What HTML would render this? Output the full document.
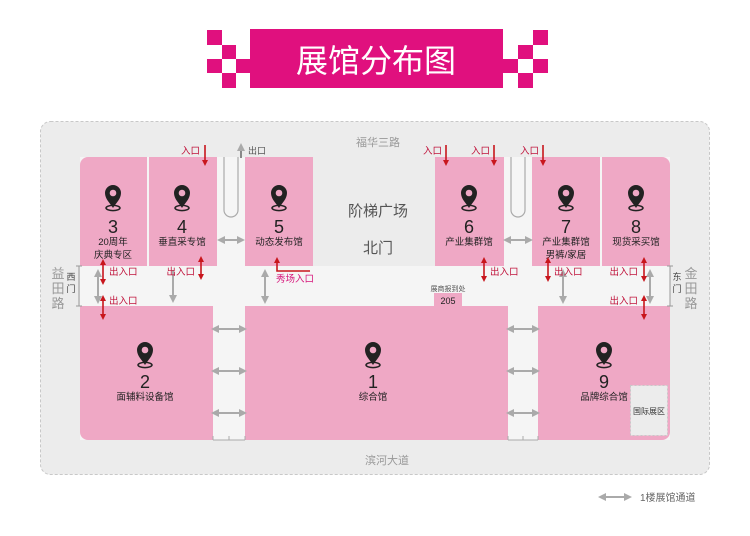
<!DOCTYPE html>
<html><head><meta charset="utf-8"><style>
html,body{margin:0;padding:0;background:#fff;width:750px;height:536px;overflow:hidden}
svg{display:block}
text{font-family:"Liberation Sans","Noto Sans CJK SC",sans-serif}
</style></head><body>
<svg width="750" height="536" viewBox="0 0 750 536" xmlns="http://www.w3.org/2000/svg">
<defs>
<marker id="rh" markerWidth="6" markerHeight="6" refX="3" refY="3" orient="auto-start-reverse" markerUnits="userSpaceOnUse"><path d="M0,0 L6,3 L0,6 z" fill="#c8161d"/></marker>
<marker id="gh" markerWidth="8" markerHeight="8" refX="4" refY="4" orient="auto-start-reverse" markerUnits="userSpaceOnUse"><path d="M0,0 L8,4 L0,8 z" fill="#aaa"/></marker>
<g id="pin"><ellipse cx="0" cy="10" rx="7" ry="2.6" fill="none" stroke="#222" stroke-width="1.5"/><path d="M0,10 C-3,5 -8,1 -8,-5 A8,8 0 1 1 8,-5 C8,1 3,5 0,10 z" fill="#222"/><circle cx="0" cy="-5" r="3.3" fill="#efa8c5"/></g>
</defs>
<!-- banner -->
<g fill="#e0107e">
<rect x="250" y="29" width="253" height="59"/>
<rect x="207" y="30" width="15" height="15"/><rect x="222" y="45" width="14" height="14"/><rect x="207" y="59" width="15" height="14"/><rect x="236" y="59" width="14" height="14"/><rect x="222" y="73" width="14" height="15"/>
<rect x="533" y="30" width="15" height="15"/><rect x="518" y="45" width="15" height="14"/><rect x="533" y="59" width="15" height="14"/><rect x="503" y="59" width="15" height="14"/><rect x="518" y="73" width="15" height="15"/>
</g>
<text x="376" y="72" font-size="32" fill="#fff" text-anchor="middle" font-family="Noto Sans CJK SC,sans-serif">展馆分布图</text>
<!-- outer -->
<rect x="40.5" y="121.5" width="669" height="353" rx="10" fill="#ececec" stroke="#c8c8c8" stroke-dasharray="3,2"/>
<!-- inner white -->
<rect x="80" y="157" width="590" height="283" fill="#f5f5f5"/>
<rect x="313" y="157" width="122" height="109" fill="#ececec"/>
<!-- halls -->
<g fill="#efa8c5">
<path d="M80,266 V165 a8,8 0 0 1 8,-8 H147 V266 z"/>
<rect x="149" y="157" width="68" height="109"/>
<rect x="245" y="157" width="68" height="109"/>
<rect x="435" y="157" width="69" height="109"/>
<rect x="532" y="157" width="68" height="109"/>
<path d="M602,157 H662 a8,8 0 0 1 8,8 V266 H602 z"/>
<path d="M80,306 H213 V440 H88 a8,8 0 0 1 -8,-8 z"/>
<rect x="245" y="306" width="263" height="134"/>
<path d="M538,306 H670 V432 a8,8 0 0 1 -8,8 H538 z"/>
<rect x="434" y="293" width="28" height="13"/>
</g>
<rect x="630.5" y="385.5" width="37" height="50" fill="#ececec" stroke="#c8c8c8" stroke-dasharray="2,2"/>
<text x="649" y="414" font-size="8" fill="#333" text-anchor="middle">国际展区</text>
<!-- U pipes -->
<path d="M224,157 V210 a7,7 0 0 0 14,0 V157" fill="none" stroke="#aaa" stroke-width="1.2"/>
<path d="M511,157 V210 a7,7 0 0 0 14,0 V157" fill="none" stroke="#aaa" stroke-width="1.2"/>
<!-- text labels -->
<g fill="#999" font-size="11" text-anchor="middle">
<text x="378" y="146">福华三路</text>
<text x="387" y="464">滨河大道</text>
<text x="58" y="278" font-size="13">益</text><text x="58" y="293" font-size="13">田</text><text x="58" y="308" font-size="13">路</text>
<text x="691" y="278" font-size="13">金</text><text x="691" y="293" font-size="13">田</text><text x="691" y="308" font-size="13">路</text>
</g>
<g fill="#444" font-size="9" text-anchor="middle">
<text x="71" y="280">西</text><text x="71" y="292">门</text>
<text x="677" y="280">东</text><text x="677" y="292">门</text>
</g>
<path d="M79,266 V306 M76,266 H82 M76,306 H82 M670,266 V306 M667,266 H673 M667,306 H673" stroke="#999" fill="none"/>
<text x="378" y="216" font-size="15" fill="#555" text-anchor="middle">阶梯广场</text>
<text x="378" y="253" font-size="15" fill="#555" text-anchor="middle">北门</text>
<text x="448" y="291" font-size="7" fill="#555" text-anchor="middle">展商报到处</text>
<text x="448" y="304" font-size="9" fill="#222" text-anchor="middle">205</text>
<!-- pins and hall labels -->
<g fill="#222" text-anchor="middle">
<use href="#pin" x="113" y="198"/><text x="113" y="233" font-size="18">3</text><text x="113" y="245" font-size="9.5">20周年</text><text x="113" y="258" font-size="9.5">庆典专区</text>
<use href="#pin" x="182" y="198"/><text x="182" y="233" font-size="18">4</text><text x="182" y="245" font-size="9.5">垂直采专馆</text>
<use href="#pin" x="279" y="198"/><text x="279" y="233" font-size="18">5</text><text x="279" y="245" font-size="9.5">动态发布馆</text>
<use href="#pin" x="469" y="198"/><text x="469" y="233" font-size="18">6</text><text x="469" y="245" font-size="9.5">产业集群馆</text>
<use href="#pin" x="566" y="198"/><text x="566" y="233" font-size="18">7</text><text x="566" y="245" font-size="9.5">产业集群馆</text><text x="566" y="258" font-size="9.5">男裤/家居</text>
<use href="#pin" x="636" y="198"/><text x="636" y="233" font-size="18">8</text><text x="636" y="245" font-size="9.5">现货采买馆</text>
<use href="#pin" x="145" y="355"/><text x="145" y="388" font-size="18">2</text><text x="145" y="400" font-size="9.5">面辅料设备馆</text>
<use href="#pin" x="373" y="355"/><text x="373" y="388" font-size="18">1</text><text x="373" y="400" font-size="9.5">综合馆</text>
<use href="#pin" x="604" y="355"/><text x="604" y="388" font-size="18">9</text><text x="604" y="400" font-size="9.5">品牌综合馆</text>
</g>
<!-- gray arrows -->
<g stroke="#aaa" stroke-width="2" marker-start="url(#gh)" marker-end="url(#gh)">
<line x1="221" y1="240" x2="241" y2="240"/><line x1="507" y1="240" x2="529" y2="240"/>
<line x1="215" y1="329" x2="243" y2="329"/><line x1="215" y1="371" x2="243" y2="371"/><line x1="215" y1="413" x2="243" y2="413"/>
<line x1="510" y1="329" x2="536" y2="329"/><line x1="510" y1="371" x2="536" y2="371"/><line x1="510" y1="413" x2="536" y2="413"/>
<line x1="98" y1="273" x2="98" y2="300"/><line x1="265" y1="273" x2="265" y2="300"/><line x1="563" y1="273" x2="563" y2="300"/><line x1="650" y1="273" x2="650" y2="300"/>
<line x1="602" y1="497" x2="628" y2="497"/>
</g>
<line x1="173" y1="270" x2="173" y2="299" stroke="#aaa" stroke-width="2" marker-end="url(#gh)"/>
<line x1="241" y1="158" x2="241" y2="147" stroke="#888" stroke-width="2" marker-end="url(#gh)"/>
<text x="248" y="154" font-size="9" fill="#555">出口</text>
<path d="M213,440 H245 M229,436 V440 M213,436 V440 M245,436 V440 M508,440 H538 M523,436 V440 M508,436 V440 M538,436 V440" stroke="#aaa"/>
<text x="640" y="501" font-size="10" fill="#666">1楼展馆通道</text>
<!-- red arrows -->
<g stroke="#c8161d" stroke-width="1.6">
<line x1="103" y1="262" x2="103" y2="282" marker-start="url(#rh)" marker-end="url(#rh)"/>
<line x1="103" y1="298" x2="103" y2="317" marker-start="url(#rh)" marker-end="url(#rh)"/>
<line x1="201" y1="259" x2="201" y2="277" marker-start="url(#rh)" marker-end="url(#rh)"/>
<line x1="484" y1="260" x2="484" y2="279" marker-start="url(#rh)" marker-end="url(#rh)"/>
<line x1="548" y1="260" x2="548" y2="279" marker-start="url(#rh)" marker-end="url(#rh)"/>
<line x1="644" y1="260" x2="644" y2="279" marker-start="url(#rh)" marker-end="url(#rh)"/>
<line x1="644" y1="298" x2="644" y2="317" marker-start="url(#rh)" marker-end="url(#rh)"/>
<line x1="205" y1="145" x2="205" y2="163" marker-end="url(#rh)"/>
<line x1="446" y1="145" x2="446" y2="163" marker-end="url(#rh)"/>
<line x1="494" y1="145" x2="494" y2="163" marker-end="url(#rh)"/>
<line x1="543" y1="145" x2="543" y2="163" marker-end="url(#rh)"/>
<path d="M310,271 H277 V260" fill="none" marker-end="url(#rh)"/>
</g>
<g fill="#c0143c" font-size="9.5">
<text x="109" y="275">出入口</text>
<text x="109" y="304">出入口</text>
<text x="195" y="275" text-anchor="end">出入口</text>
<text x="490" y="275">出入口</text>
<text x="554" y="275">出入口</text>
<text x="638" y="275" text-anchor="end">出入口</text>
<text x="638" y="304" text-anchor="end">出入口</text>
<text x="200" y="154" text-anchor="end">入口</text>
<text x="442" y="154" text-anchor="end">入口</text>
<text x="490" y="154" text-anchor="end">入口</text>
<text x="539" y="154" text-anchor="end">入口</text>
<text x="276" y="282" fill="#d6147a">秀场入口</text>
</g>
</svg>
</body></html>
